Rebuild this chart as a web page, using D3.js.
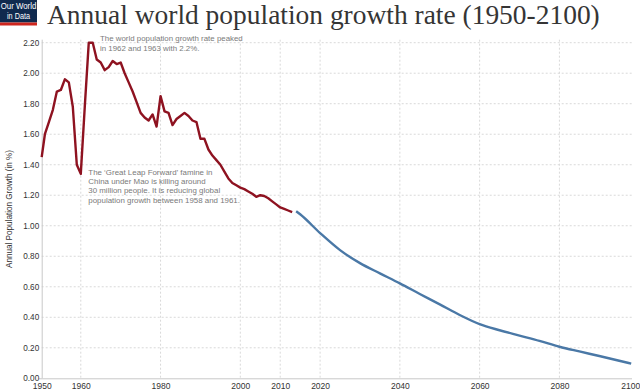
<!DOCTYPE html>
<html><head><meta charset="utf-8">
<script src="https://cdn.jsdelivr.net/npm/d3@7/dist/d3.min.js"></script>
<style>body{margin:0;background:#fff}svg{display:block}</style>
</head><body>
<svg id="chart" width="640" height="390"></svg>
<script>
// ---------- data ----------
const historicYears = d3.range(1950, 2014);
const historicRates = [
  1.45, 1.60, 1.68, 1.76, 1.88, 1.89, 1.96, 1.94, 1.78, 1.40,
  1.34, 1.78, 2.20, 2.20, 2.09, 2.07, 2.02, 2.04, 2.08, 2.06,
  2.07, 2.00, 1.94, 1.88, 1.81, 1.74, 1.71, 1.69, 1.73, 1.65,
  1.85, 1.75, 1.74, 1.66, 1.70, 1.72, 1.74, 1.72, 1.69, 1.68,
  1.57, 1.57, 1.50, 1.46, 1.43, 1.40, 1.355, 1.31, 1.28, 1.265,
  1.25, 1.24, 1.225, 1.21, 1.19, 1.20, 1.195, 1.18, 1.16, 1.14,
  1.12, 1.11, 1.10, 1.09
];
const projectionYears = [2014, 2015, 2020, 2025, 2030, 2035, 2040, 2045, 2050, 2055, 2060, 2065, 2070, 2075, 2080, 2085, 2090, 2095, 2098];
const projectionRates = [1.095, 1.075, 0.952, 0.840, 0.755, 0.688, 0.622, 0.553, 0.485, 0.415, 0.355, 0.315, 0.280, 0.245, 0.207, 0.176, 0.146, 0.115, 0.096];

const xTickYears = [1950, 1960, 1980, 2000, 2010, 2020, 2040, 2060, 2080, 2100];
const yTickValues = [0, 0.2, 0.4, 0.6, 0.8, 1.0, 1.2, 1.4, 1.6, 1.8, 2.0, 2.2];

const titleText = "Annual world population growth rate (1950-2100)";
const yAxisTitle = "Annual Population Growth (in %)";
const logoLines = ["Our World", "in Data"];
const peakNote = ["The world population growth rate peaked", "in 1962 and 1963 with 2.2%."];
const famineNote = ["The \u2018Great Leap Forward\u2019 famine in", "China under Mao is killing around",
  "30 million people. It is reducing global", "population growth between 1958 and 1961."];

// ---------- layout ----------
const svg = d3.select("#chart");
const sans = "'Liberation Sans', Arial, Helvetica, sans-serif";
const plotL = 41.7, plotR = 632, plotT = 42.7, plotB = 378.3;

const x = d3.scaleLinear().domain([1950.2, 2098.2]).range([plotL, plotR]).clamp(true);
const y = d3.scaleLinear().domain([0, 2.2]).range([plotB, plotT]);

function fitText(sel, width) {
  const w = sel.node().getComputedTextLength();
  const fs = parseFloat(sel.attr("font-size"));
  sel.attr("font-size", (fs * width / w).toFixed(3));
}

// logo
const logo = svg.append("g");
logo.append("rect").attr("x", 0).attr("y", 0).attr("width", 37).attr("height", 22.5).attr("fill", "#102a4e");
logo.append("rect").attr("x", 0).attr("y", 22.5).attr("width", 37).attr("height", 3).attr("fill", "#ce261e");
logo.selectAll("text.logo").data(logoLines).join("text")
  .attr("class", "logo")
  .attr("x", 18.5).attr("y", (d, i) => 9.2 + i * 10)
  .attr("text-anchor", "middle").attr("fill", "#fff")
  .attr("font-family", sans).attr("font-size", 8.6)
  .attr("textLength", (d, i) => i === 0 ? 35.5 : 23)
  .attr("lengthAdjust", "spacingAndGlyphs")
  .text(d => d);

// title
const title = svg.append("text")
  .attr("x", 47).attr("y", 24)
  .attr("font-family", "'Liberation Serif', 'DejaVu Serif', serif")
  .attr("font-size", 28).attr("fill", "#353535")
  .text(titleText);
fitText(title, 553);

// gridlines
const grid = svg.append("g").attr("stroke", "#d9d9d9").attr("stroke-dasharray", "2,2").attr("stroke-width", 1);
grid.selectAll("line.h").data(yTickValues.filter(v => v > 0)).join("line")
  .attr("class", "h")
  .attr("x1", plotL).attr("x2", plotR)
  .attr("y1", d => y(d)).attr("y2", d => y(d));
grid.selectAll("line.v").data(xTickYears.filter(v => v > 1950 && v < 2100)).join("line")
  .attr("class", "v")
  .attr("x1", d => x(d)).attr("x2", d => x(d))
  .attr("y1", plotT - 3).attr("y2", plotB);

// axes
const xAxis = svg.append("g").attr("transform", `translate(0,${plotB})`)
  .call(d3.axisBottom(x).tickValues(xTickYears).tickSize(0).tickPadding(5).tickFormat(d3.format("d")));
xAxis.select(".domain").attr("stroke", "#c8c8c8").attr("d", `M${plotL - 3},0.5H${plotR}`);
xAxis.selectAll("text").attr("font-family", sans).attr("font-size", 8.5).attr("fill", "#333");
// keep the last label inside the picture
xAxis.selectAll(".tick").filter(d => d === 2100).select("text").attr("x", -1.8);

const yAxis = svg.append("g").attr("transform", `translate(${plotL},0)`)
  .call(d3.axisLeft(y).tickValues(yTickValues).tickSize(0).tickPadding(2.5).tickFormat(d3.format(".2f")));
yAxis.select(".domain").attr("stroke", "#c8c8c8").attr("d", `M0.5,${plotT - 3}V${plotB}`);
yAxis.selectAll("text").attr("font-family", sans).attr("font-size", 8.2).attr("fill", "#333");

// y axis title
const yt = svg.append("text")
  .attr("transform", "translate(11.5,209) rotate(-90)")
  .attr("text-anchor", "middle")
  .attr("font-family", sans).attr("font-size", 8.5).attr("fill", "#333")
  .text(yAxisTitle);
fitText(yt, 118);

// lines
const line = d3.line().x(d => x(d[0])).y(d => y(d[1]));
svg.append("path")
  .datum(historicYears.map((yr, i) => [yr, historicRates[i]]))
  .attr("fill", "none").attr("stroke", "#8e1220").attr("stroke-width", 2.4)
  .attr("stroke-linejoin", "round")
  .attr("d", line);
svg.append("path")
  .datum(projectionYears.map((yr, i) => [yr, projectionRates[i]]))
  .attr("fill", "none").attr("stroke", "#4a78a6").attr("stroke-width", 2.4)
  .attr("d", line.curve(d3.curveMonotoneX));

// annotations
function note(lines, x0, y0, dy, width, fitIndex) {
  const g = svg.append("g");
  const t = g.selectAll("text").data(lines).join("text")
    .attr("x", x0).attr("y", (d, i) => y0 + i * dy)
    .attr("font-family", sans).attr("font-size", 8.5).attr("fill", "#7a7a7a")
    .text(d => d);
  const w = t.nodes()[fitIndex].getComputedTextLength();
  t.attr("font-size", (8.5 * width / w).toFixed(3));
}
note(peakNote, 100, 40.7, 10, 143, 0);
note(famineNote, 88.3, 174.5, 9.4, 152, 3);
</script>
</body></html>
